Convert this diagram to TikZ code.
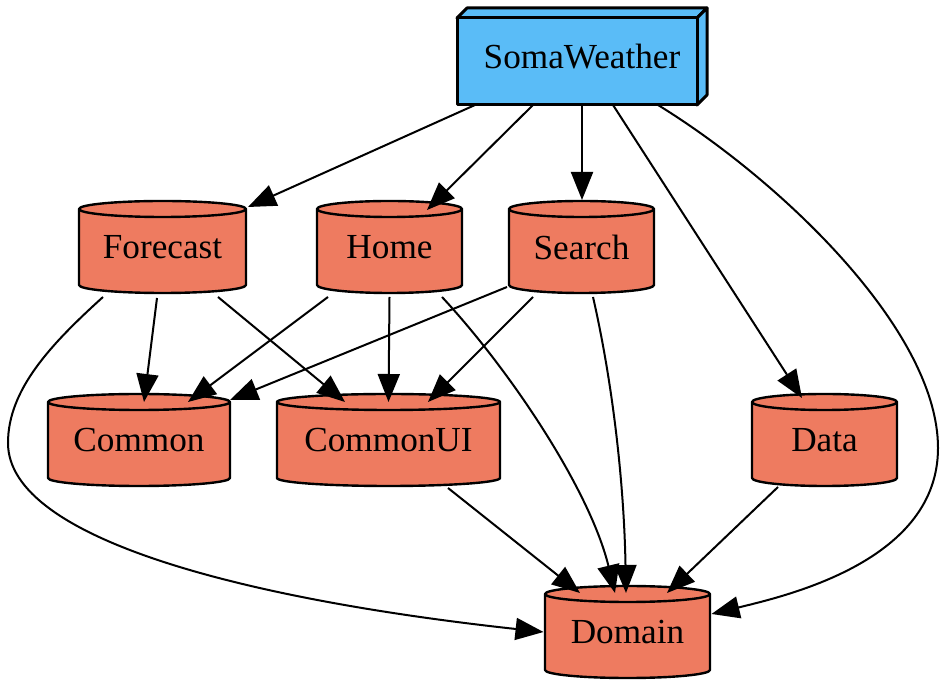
\documentclass[tikz,border=0pt]{standalone}
\usepackage{fontspec}
\setmainfont{Liberation Serif}
\usetikzlibrary{arrows.meta,calc}
\definecolor{cylfill}{HTML}{EE7B60}
\definecolor{boxfill}{HTML}{5ABCF7}
\tikzset{
  cylshape/.style={fill=cylfill,draw=black,line width=1.2pt,line join=round},
  cylline/.style={draw=black,line width=1.2pt},
  boxshape/.style={fill=boxfill,draw=black,line width=1.5pt,line join=round},
  lbl/.style={rectangle,inner sep=0pt,font=\fontsize{17.6}{20}\selectfont},
  edge/.style={draw=black,line width=1pt,-{Triangle[length=14pt,width=11pt]}}
}
\newcommand\cylnode[6]{%
  \path[cylshape] (#2-#4/2,#3-#5/2+8) -- (#2-#4/2,#3+#5/2-8)
    arc[start angle=180,end angle=360,x radius=#4*0.25pt,y radius=4pt]
    -- (#2+#4/2,#3-#5/2+8)
    arc[start angle=0,end angle=180,x radius=#4*0.25pt,y radius=4pt] -- cycle;
  \draw[cylline] (#2-#4/2,#3-#5/2+8)
    arc[start angle=180,end angle=360,x radius=#4*0.25pt,y radius=4pt];
  \node[lbl,minimum width=#4*0.5pt,minimum height=#5*0.5pt] (#1) at (#2,#3) {#6};
}
\begin{document}
\begin{tikzpicture}[x=0.5pt,y=-0.5pt]
\useasboundingbox (0,0) rectangle (942,688);
% SomaWeather box3d
\path[boxshape] (457,18) -- (467,8) -- (707,8) -- (697,18) -- cycle;
\path[boxshape] (697,18) -- (707,8) -- (707,95) -- (697,105) -- cycle;
\path[boxshape] (457,18) rectangle (697,105);
\node[lbl,minimum width=125pt,minimum height=48.5pt] (sw) at (582,56.5) {SomaWeather};
% cylinders
\cylnode{fc}{162.5}{247}{167}{92}{Forecast}
\cylnode{hm}{389.5}{247}{145}{92}{Home}
\cylnode{se}{581.5}{247}{145}{92}{Search}
\cylnode{cm}{139}{440}{182}{92}{Common}
\cylnode{cu}{388.5}{440}{223}{92}{CommonUI}
\cylnode{dt}{824.5}{440}{145}{92}{Data}
\cylnode{dm}{627.5}{632}{165}{92}{Domain}
% edges
\draw[edge] ($(sw)+(-107,48.5)$) -- ($(fc)+(85.5,-40)$);
\draw[edge] ($(sw)+(-49,48.5)$) -- ($(hm)+(37.5,-37)$);
\draw[edge] ($(sw)+(0,48.5)$) -- ($(se)+(0.5,-47)$);
\draw[edge] ($(sw)+(31,48.5)$) -- ($(dt)+(-22.5,-42)$);
\draw[edge] ($(sw)+(76,48.5)$) .. controls (780,180) and (938,330) .. (938,448)
   .. controls (938,560) and (790,595) .. ($(dm)+(84,-18)$);
\draw[edge] ($(fc)+(-59.5,50)$) .. controls (50,345) and (8,390) .. (8,443)
   .. controls (8,540) and (250,600) .. ($(dm)+(-84,0)$);
\draw[edge] ($(fc)+(-5.5,51)$) -- ($(cm)+(5,-38)$);
\draw[edge] ($(fc)+(55.5,50)$) -- ($(cu)+(-43.5,-38)$);
\draw[edge] ($(hm)+(-61.5,50)$) -- ($(cm)+(49,-38)$);
\draw[edge] ($(hm)+(0,50)$) -- ($(cu)+(0,-38)$);
\draw[edge] ($(hm)+(52.5,50)$) .. controls (510,370) and (590,490) .. ($(dm)+(-12.5,-39)$);
\draw[edge] ($(se)+(-74.5,40)$) -- ($(cm)+(91,-40)$);
\draw[edge] ($(se)+(-48.5,50)$) -- ($(cu)+(39.5,-38)$);
\draw[edge] ($(se)+(11.5,50)$) .. controls (612,380) and (624,480) .. ($(dm)+(-1.5,-39)$);
\draw[edge] ($(cu)+(59.5,48)$) -- ($(dm)+(-47.5,-39)$);
\draw[edge] ($(dt)+(-46.5,47)$) -- ($(dm)+(39.5,-39)$);
\end{tikzpicture}
\end{document}
